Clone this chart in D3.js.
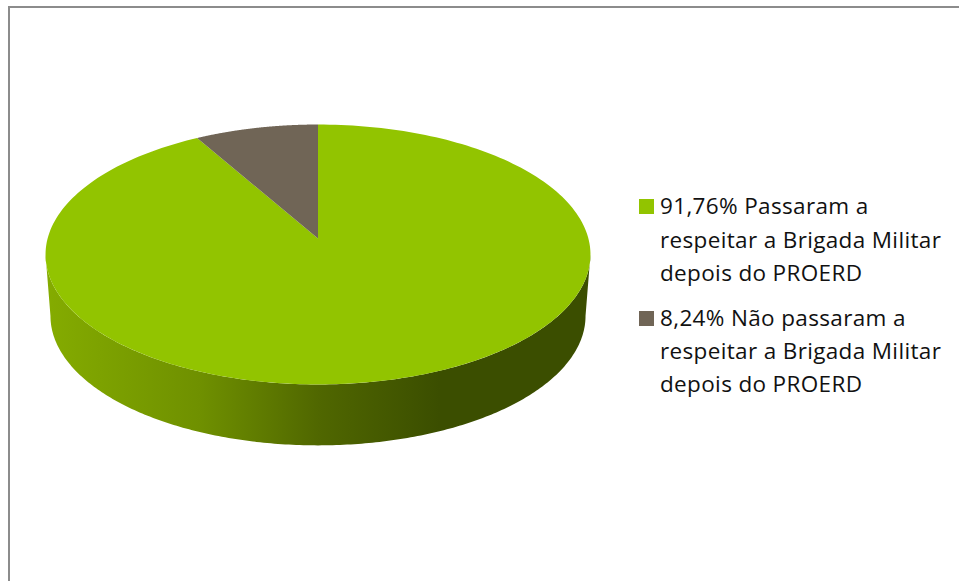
<!DOCTYPE html>
<html><head><meta charset="utf-8">
<script src="https://d3js.org/d3.v7.min.js"></script>
<style>html,body{margin:0;padding:0;background:#fff}svg{display:block}</style>
</head><body><svg id="c" width="959" height="581"></svg>
<script>
const categories = ["Passaram a respeitar a Brigada Militar depois do PROERD", "Não passaram a respeitar a Brigada Militar depois do PROERD"];
const values = [91.76, 8.24];
const valueLabels = ["91,76%", "8,24%"];
const legendLines = [["91,76% Passaram a", "respeitar a Brigada Militar", "depois do PROERD"], ["8,24% Não passaram a", "respeitar a Brigada Militar", "depois do PROERD"]];
const colors = ["#92c400", "#706556"];
const wallStops = [[50, "#84ab00"], [200, "#6f9000"], [318, "#506700"], [440, "#3b4e00"], [590, "#3b4e00"]];

const svg = d3.select("#c");
// frame
svg.append("path").attr("d", "M9,581V7H959").attr("fill", "none").attr("stroke", "#8c8c8c").attr("stroke-width", 2);

// perspective disc projection
const k = 0.123;
function proj(a, o) {
  const u = Math.sin(a), v = Math.cos(a), w = 1 + k * v;
  return [o.cx + o.A * u / w, o.cy - o.B * v / w];
}
const topDisc = {cx: 318, cy: 238.5, A: 270.4, B: 128};
const botDisc = {cx: 318, cy: 300, A: 265.5, B: 127.5};

const arcs = d3.pie().sort(null).value(d => d)(values);
const defs = svg.append("defs");
const grad = defs.append("linearGradient").attr("id", "wall").attr("gradientUnits", "userSpaceOnUse")
  .attr("x1", 45).attr("x2", 590).attr("y1", 0).attr("y2", 0);
const xs = d3.scaleLinear().domain([45, 590]).range([0, 1]);
wallStops.forEach(s => grad.append("stop").attr("offset", xs(s[0])).attr("stop-color", s[1]));

const line = d3.line().curve(d3.curveLinear);
const N = 240;
const sampled = (a0, a1, o) => d3.range(N + 1).map(i => proj(a0 + (a1 - a0) * i / N, o));

// side wall: between the rim's widest points through the front
const wallA0 = Math.acos(-k), wallA1 = 2 * Math.PI - wallA0;
svg.append("path")
  .attr("d", line(sampled(wallA0, wallA1, topDisc).concat(sampled(wallA1, wallA0, botDisc))) + "Z")
  .attr("fill", "url(#wall)");

// top face
arcs.forEach((d, i) => {
  const pts = [[topDisc.cx, topDisc.cy]].concat(sampled(d.startAngle, d.endAngle, topDisc));
  svg.append("path").attr("d", line(pts) + "Z").attr("fill", colors[i]);
});

// legend
const legendX = 660, swX = 639, sw = 15;
const lineY = [[214, 248, 281], [326, 359, 392]];
const swY = [199, 311];
legendLines.forEach((lines, i) => {
  svg.append("rect").attr("x", swX).attr("y", swY[i]).attr("width", sw).attr("height", sw).attr("fill", colors[i]);
  lines.forEach((t, j) => svg.append("text").attr("x", legendX).attr("y", lineY[i][j])
    .attr("font-family", "'Open Sans', Lato, sans-serif").attr("font-size", 22.5).attr("letter-spacing", 0.35).attr("fill", "#111").text(t));
});
</script></body></html>
